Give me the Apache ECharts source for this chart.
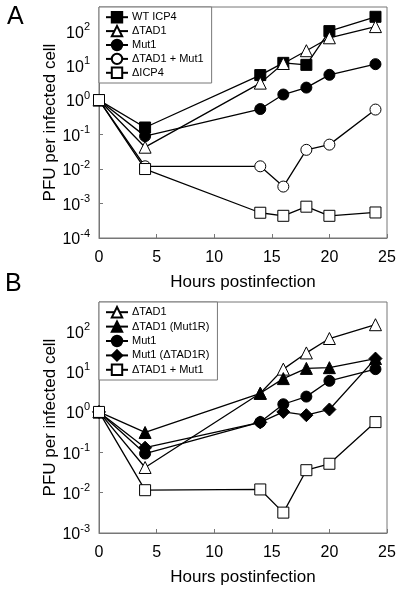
<!DOCTYPE html>
<html><head><meta charset="utf-8">
<script src="https://cdn.jsdelivr.net/npm/echarts@6/dist/echarts.min.js"></script>
<style>html,body{margin:0;padding:0;background:#fff}#c{width:402px;height:593px}</style>
</head><body><div id="c"></div>
<script>
// ---- data ----
const hours = [0, 4, 14, 16, 18, 20, 24];
const xTicks = [0, 5, 10, 15, 20, 25];
// Panel A
const A_wtICP4   = [1, 0.16, 5.3, 12, 10.5, 100, 260];
const A_tad1     = [1, 0.043, 3.1, 11.5, 27, 64, 135];
const A_mut1     = [1, 0.09, 0.55, 1.45, 2.3, 5.4, 11];
const A_tad1Mut1 = [1, 0.012, 0.012, 0.0031, 0.036, 0.051, 0.53];
const A_dICP4    = [1, 0.01, 0.00054, 0.00044, 0.00081, 0.00044, 0.00055];
// Panel B
const B_tad1      = [1, 0.042, 2.9, 11.5, 29, 66, 145];
const B_tad1Mut1R = [1, 0.31, 2.9, 6.7, 12, 12.5, 21];
const B_mut1      = [1, 0.093, 0.56, 1.55, 2.4, 5.9, 11.5];
const B_mut1Tad1R = [1, 0.13, 0.55, 1.0, 0.83, 1.15, 21];
const B_tad1Mut1  = [1, 0.0115, 0.012, 0.0032, 0.036, 0.052, 0.56];
const yMinA = 1e-4, yMaxA = 500;
const yMinB = 1e-3, yMaxB = 530;

const FONT = 'Liberation Sans, Arial, sans-serif';
const pairs = ys => hours.map((h, i) => [h, ys[i]]);

function mk(name, ys, symbol, filled, idx, size) {
  return {
    type: 'line', name: name, data: pairs(ys), xAxisIndex: idx, yAxisIndex: idx,
    symbol: symbol, symbolSize: size || 11,
    lineStyle: {color: '#000', width: 1.3},
    itemStyle: {color: filled ? '#000' : '#fff', borderColor: '#000', borderWidth: 1},
    emphasis: {disabled: true}, animation: false, z: 2
  };
}

const supFmt = v => {
  const e = Math.log10(v);
  if (Math.abs(e - Math.round(e)) > 1e-6) return '';
  return '{b|10}{s|' + Math.round(e) + '}';
};

function xAx(idx) {
  return {
    type: 'value', gridIndex: idx, min: 0, max: 25, interval: 5,
    axisLine: {lineStyle: {color: '#777', width: 1}},
    axisTick: {inside: true, length: 4, lineStyle: {color: '#777'}},
    axisLabel: {fontSize: 16, color: '#000', fontFamily: FONT, margin: 12},
    splitLine: {show: false},
    name: 'Hours postinfection', nameLocation: 'middle', nameGap: 36,
    nameMoveOverlap: false,
    nameTextStyle: {fontSize: 17, color: '#000', fontFamily: FONT}
  };
}
function yAx(idx, mn, mx) {
  return {
    type: 'log', logBase: 10, gridIndex: idx, min: mn, max: mx, interval: 1,
    axisLine: {show: true, lineStyle: {color: '#777', width: 1}},
    axisTick: {inside: true, length: 4, lineStyle: {color: '#777'}},
    minorTick: {show: false},
    axisLabel: {
      formatter: supFmt, margin: 9, fontFamily: FONT, color: '#000',
      showMaxLabel: false,
      rich: {
        b: {fontSize: 16, fontFamily: FONT, color: '#000', lineHeight: 20, verticalAlign: 'bottom'},
        s: {fontSize: 11, fontFamily: FONT, color: '#000', lineHeight: 20, verticalAlign: 'top'}
      }
    },
    splitLine: {show: false},
    name: 'PFU per infected cell', nameLocation: 'middle', nameGap: 40,
    nameMoveOverlap: false,
    nameTextStyle: {fontSize: 17, color: '#000', fontFamily: FONT}
  };
}
function leg(names, top, gap) {
  return {
    orient: 'vertical', left: 99, top: top,
    data: names,
    formatter: n => n.replace(/^B:/, ''),
    backgroundColor: '#fff', borderColor: '#777', borderWidth: 1,
    padding: [4, 8, 4, 6], itemGap: gap, itemWidth: 22, itemHeight: 13,
    textStyle: {fontSize: 11, fontFamily: FONT, color: '#000', padding: [0, 0, 0, -1]},
    selectedMode: false, z: 10
  };
}

const chart = echarts.init(document.getElementById('c'));
chart.setOption({
  animation: false,
  backgroundColor: '#fff',
  grid: [
    {left: 99, top: 7, width: 288, height: 231, show: true, borderColor: '#777', borderWidth: 1},
    {left: 99, top: 302, width: 288, height: 231, show: true, borderColor: '#777', borderWidth: 1}
  ],
  xAxis: [xAx(0), xAx(1)],
  yAxis: [yAx(0, yMinA, yMaxA), yAx(1, yMinB, yMaxB)],
  legend: [
    leg(['WT ICP4', 'ΔTAD1', 'Mut1', 'ΔTAD1 + Mut1', 'ΔICP4'], 7, 1.5),
    leg(['B:ΔTAD1', 'B:ΔTAD1 (Mut1R)', 'B:Mut1', 'B:Mut1 (ΔTAD1R)', 'B:ΔTAD1 + Mut1'], 302, 2)
  ],
  graphic: [
    {type: 'text', left: 7, top: 5, style: {text: 'A', fontSize: 25, fontFamily: FONT, fill: '#000'}},
    {type: 'text', left: 5, top: 272, style: {text: 'B', fontSize: 25, fontFamily: FONT, fill: '#000'}}
  ],
  series: [
    mk('WT ICP4', A_wtICP4, 'rect', true, 0),
    mk('ΔTAD1', A_tad1, 'triangle', false, 0, 12),
    mk('Mut1', A_mut1, 'circle', true, 0),
    mk('ΔTAD1 + Mut1', A_tad1Mut1, 'circle', false, 0),
    mk('ΔICP4', A_dICP4, 'rect', false, 0),
    mk('B:ΔTAD1', B_tad1, 'triangle', false, 1, 12),
    mk('B:ΔTAD1 (Mut1R)', B_tad1Mut1R, 'triangle', true, 1, 12),
    mk('B:Mut1', B_mut1, 'circle', true, 1),
    mk('B:Mut1 (ΔTAD1R)', B_mut1Tad1R, 'diamond', true, 1, 13),
    mk('B:ΔTAD1 + Mut1', B_tad1Mut1, 'rect', false, 1)
  ]
});
</script></body></html>
